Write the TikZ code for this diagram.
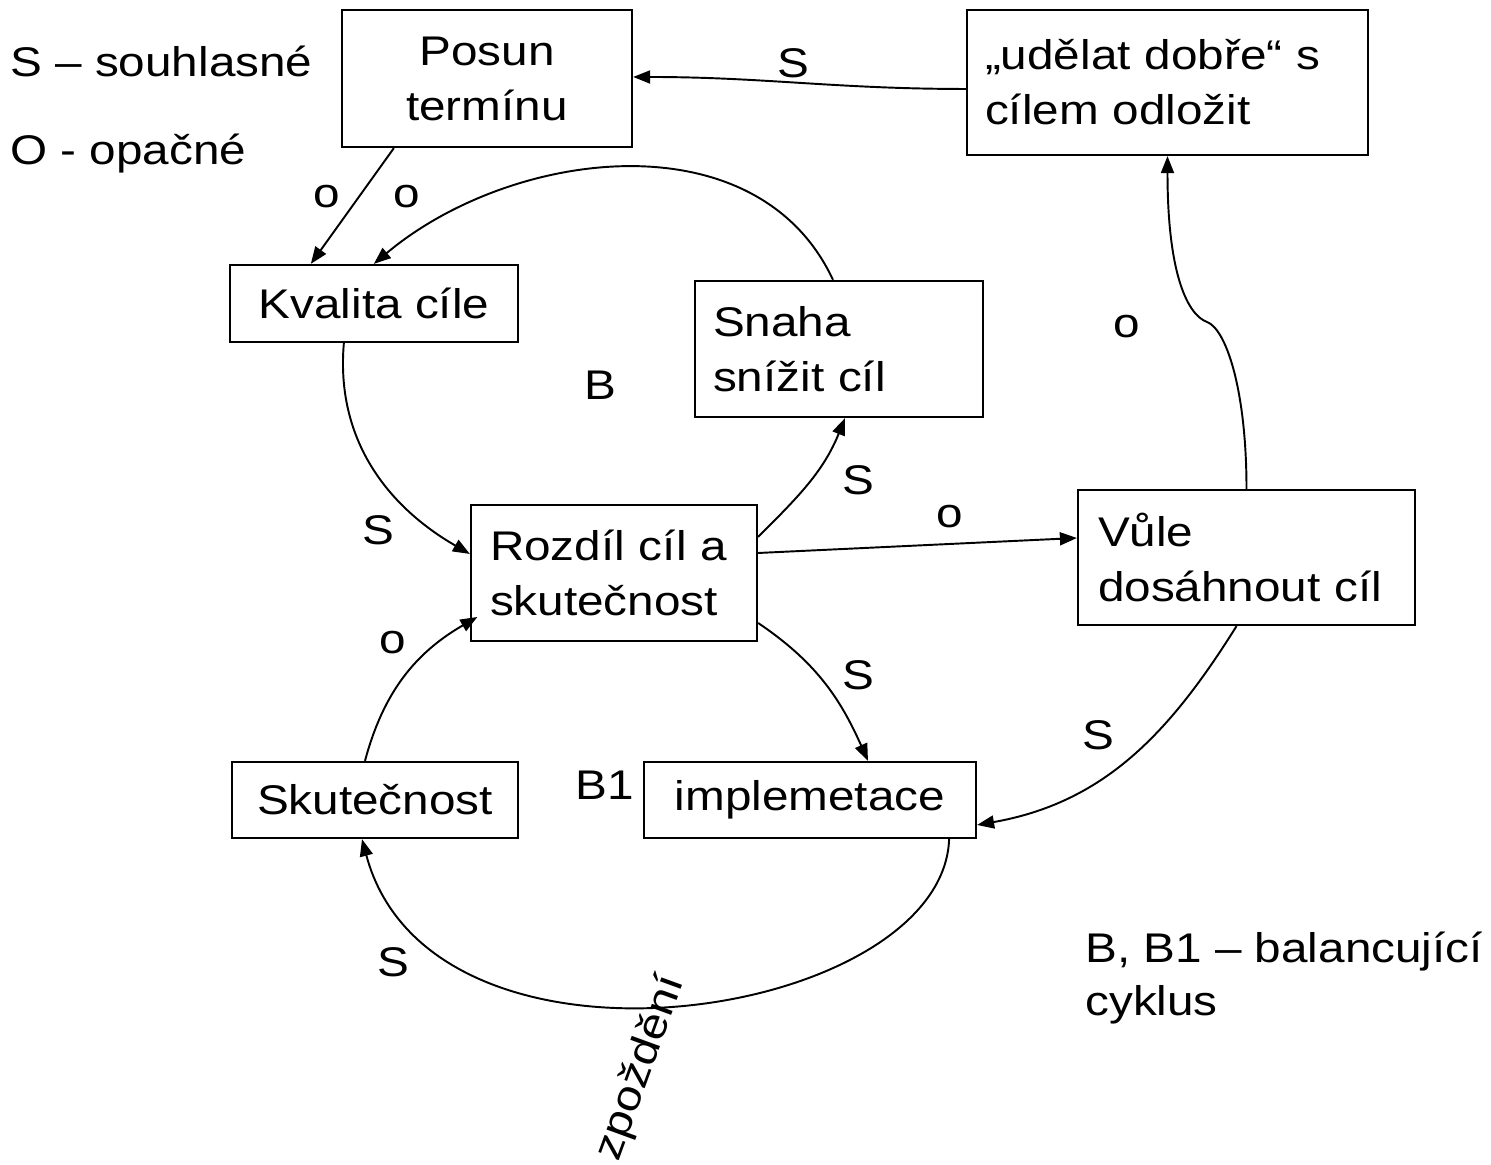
\documentclass[tikz,border=0pt]{standalone}
\usepackage{fontspec}
\setmainfont{Liberation Sans}[FakeStretch=1.15]
\usepackage{tikz}
\usetikzlibrary{
  positioning,
  calc,
  arrows.meta
}
\tikzstyle{box}=[draw, line width=1.3pt, inner sep=0pt]
\tikzstyle{lbox}=[box, align=left]
\tikzstyle{arrow}=[-{Triangle[length=0.34cm, width=0.26cm]}, line width=1.1pt]
\tikzstyle{lbl}=[inner sep=0pt]

\begin{document}
\begin{tikzpicture}[x=0.02cm, y=0.02cm, font=\fontsize{23.6}{31.3}\selectfont]
      \useasboundingbox (0,0) rectangle (1491,1165);

      % ボックス
      \node[box, align=center, minimum width=5.8cm, minimum height=2.74cm] (posun) at (487,1086.5) {Posun\\termínu};
      \node[lbox, text width=7.30cm, inner xsep=0.36cm, minimum height=2.9cm] (odlozit) at (1167.5,1082.5) {„udělat dobře“ s\\cílem odložit};
      \node[box, align=center, minimum width=5.76cm, minimum height=1.54cm] (kvalita) at (374,861.5) {Kvalita cíle};
      \node[lbox, text width=5.04cm, inner xsep=0.36cm, minimum height=2.72cm] (snaha) at (839,816) {Snaha\\snížit cíl};
      \node[lbox, text width=4.96cm, inner xsep=0.38cm, minimum height=2.72cm] (rozdil) at (614,592) {Rozdíl cíl a\\skutečnost};
      \node[lbox, text width=5.94cm, inner xsep=0.4cm, minimum height=2.7cm] (vule) at (1246.5,607.5) {Vůle\\dosáhnout cíl};
      \node[box, align=center, minimum width=5.72cm, minimum height=1.52cm] (skutecnost) at (375,365) {Skutečnost};
      \node[box, align=center, minimum width=6.64cm, minimum height=1.52cm] (impl) at (810,365) {implemetace};

      % 矢印
      \draw[arrow] ([yshift=-0.13cm]odlozit.west) to[out=180, in=0] ([yshift=0.03cm]posun.east);
      \draw[arrow] ([xshift=1.06cm]posun.south west) -- ([xshift=1.64cm]kvalita.north west);
      \draw[arrow] ([xshift=-0.12cm]snaha.north) to[out=115, in=40] ([xshift=2.9cm]kvalita.north west);
      \draw[arrow] ([xshift=2.3cm]kvalita.south west) to[out=-95, in=150] ([yshift=0.38cm]rozdil.west);
      \draw[arrow] ([yshift=0.72cm]rozdil.east) to[out=45, in=-112] ([xshift=0.12cm]snaha.south);
      \draw[arrow] ([yshift=0.4cm]rozdil.east) -- ([yshift=0.39cm]vule.west);
      \draw[arrow] ([yshift=-1.0cm]rozdil.east) to[out=-34, in=114] ([xshift=1.16cm]impl.north);
      \draw[arrow] ([xshift=-0.2cm]vule.south) to[out=-122, in=10] ([yshift=-0.5cm]impl.east);
      \draw[arrow] ([xshift=-0.2cm]skutecnost.north) to[out=75, in=-150] ([xshift=0.15cm, yshift=-0.88cm]rozdil.west);
      \draw[arrow] ([xshift=-0.56cm]impl.south east) to[out=-92, in=-75, out distance=3.6cm, in distance=5.4cm] ([xshift=-0.26cm]skutecnost.south);

      % Vůle から上への曲がった矢印
      \coordinate (knick) at (1207,843);
      \draw[arrow] (vule.north) to[out=90, in=-20, out distance=2cm, in distance=0.4cm] (knick)
        to[out=160, in=-90, out distance=0.4cm, in distance=2.4cm] (odlozit.south);

      % 凡例
      \node[lbl] (legs) at (10,1088) [anchor=base west] {S – souhlasné};
      \node[lbl] (lego) at (10,1000) [anchor=base west] {O - opačné};
      \node[lbl] (legb) at (1085,202) [anchor=base west] {B, B1 – balancující};
      \node[lbl] (legcyk) at (1085,149) [anchor=base west] {cyklus};

      % 矢印のラベル
      \node[lbl] (s1) at (793,1102) {S};
      \node[lbl] (o1) at (327,968) {o};
      \node[lbl] (o2) at (407,968) {o};
      \node[lbl] (b) at (600,780) {B};
      \node[lbl] (o3) at (1127,838) {o};
      \node[lbl] (s2) at (858,685) {S};
      \node[lbl] (o4) at (950,648) {o};
      \node[lbl] (s3) at (378,635) {S};
      \node[lbl] (o5) at (393,522) {o};
      \node[lbl] (s4) at (858,490) {S};
      \node[lbl] (s5) at (1098,430) {S};
      \node[lbl] (b1) at (605,380) {B1};
      \node[lbl] (s6) at (393,203) {S};
      \node[lbl] (zpozdeni) at (641,97) [rotate=70] {zpoždění};
\end{tikzpicture}
\end{document}
